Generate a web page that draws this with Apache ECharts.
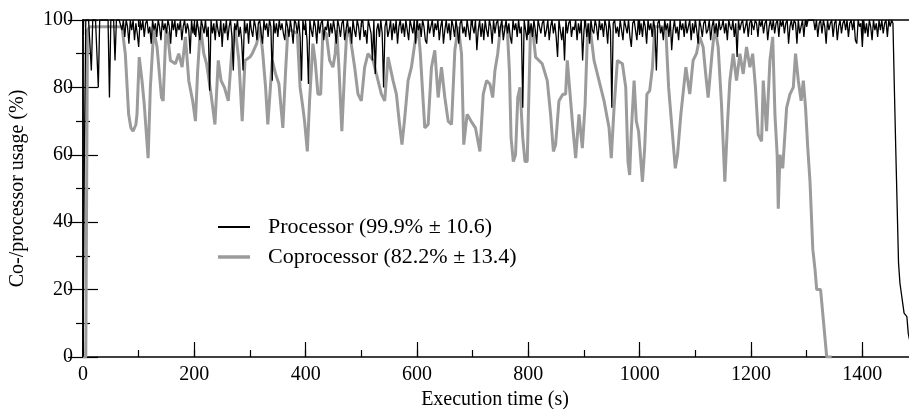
<!DOCTYPE html>
<html><head><meta charset="utf-8">
<script src="https://cdn.jsdelivr.net/npm/echarts@6/dist/echarts.min.js"></script>
<style>html,body{margin:0;padding:0;background:#fff;}#c{width:909px;height:409px;}</style>
</head><body><div id="c"></div>
<script>
const FONT = 'Liberation Serif';
const seriesNames = ['Processor (99.9% \u00b1 10.6)', 'Coprocessor (82.2% \u00b1 13.4)'];
const xName = 'Execution time (s)';
const yName = 'Co-/processor usage (%)';
const xMin = 0, xMax = 1500, xMajor = 200, xMinor = 100;
const yMin = 0, yMax = 100, yMajor = 20;

// Coprocessor usage: breakpoints (time s, usage %)
const copT = [0,5,8,12,40,70,76,82,86,90,95,97,101,106,110,117,121,127,133,141,144,149,152,157,166,172,178,184,190,197,202,206,211,217,222,230,237,243,248,254,261,267,273,280,286,291,300,304,312,318,323,328,332,340,346,352,359,364,368,
373,385,390,395,398,403,407,413,417,422,427,431,437,443,449,453,456,460,465,470,474,480,488,494,500,506,512,521,527,536,542,548,557,563,568,573,578,584,590,596,602,606,611,614,620,626,632,638,644,650,656,662,668,674,680,684,690,697,705,713,719,725,731,736,
740,745,750,762,766,769,773,777,781,785,790,794,798,804,808,813,825,834,840,845,849,855,862,867,870,875,880,885,891,897,902,906,910,918,927,936,945,949,954,960,969,975,979,982,985,990,994,998,1005,1009,1013,1018,1023,1027,1040,1047,1052,1057,1064,1068,1074,1083,1090,1096,1102,
1108,1114,1118,1123,1130,1135,1141,1147,1153,1158,1162,1168,1174,1180,1186,1192,1198,1203,1208,1213,1219,1222,1228,1234,1239,1243,1247,1249,1252,1257,1264,1270,1276,1280,1285,1290,1294,1298,1302,1306,1311,1315,1318,1325,1336,1345];
const copV = [0,0,97,98,98,98,90,72,68,67,69,72,89,82,75,59,80,97,92,77,76,97,96,88,87,90,86,95,82,76,70,85,98,90,87,78,69,88,82,80,76,90,98,88,70,88,89,90,93,98,90,80,69,88,84,81,68,85,97,
97,96,80,74,70,61,76,93,88,78,78,97,96,88,86,90,97,85,67,85,97,95,86,78,76,86,90,88,84,78,76,89,82,78,70,63,71,82,86,93,98,90,76,68,69,86,91,77,86,77,70,69,91,98,90,63,72,70,68,61,78,82,81,77,
85,90,98,98,85,65,58,60,77,80,65,58,58,98,97,89,87,82,72,61,63,76,78,78,88,78,68,59,72,62,75,95,99,88,82,76,68,59,74,88,87,80,58,54,67,82,70,67,52,62,78,79,86,98,98,97,80,70,56,60,72,86,78,88,90,
95,92,85,77,90,98,92,75,52,70,82,90,82,90,84,92,86,90,80,66,64,82,67,88,95,72,60,44,60,56,74,78,80,90,82,76,82,74,62,52,32,26,20,20,0,0];

// Processor usage: one value every procStep seconds from procStart
const procStart = 0;
const procStep = 2.5;
const procV = [
0,60,100,100,100,100,85,100,100,100,
100,80,100,100,100,100,100,100,100,77,
100,100,100,88,100,100,100,100,97,100,
95,100,98,93,100,97,100,94,99,96,
92,100,97,100,95,99,100,96,98,93,
100,97,99,95,100,98,94,100,97,99,
96,100,98,93,100,97,100,95,99,97,
100,94,98,100,96,99,97,90,100,96,
99,95,100,97,94,100,98,96,100,95,
98,79,100,96,99,94,100,97,95,100,
92,99,96,100,94,98,100,95,85,99,
97,100,95,98,94,85,100,96,99,93,
100,97,95,100,98,94,99,100,96,93,
100,97,99,95,100,98,82,100,96,99,
95,100,97,99,96,94,100,98,95,100,
97,93,100,99,96,100,95,82,100,97,
99,94,81,100,97,95,100,98,93,100,
96,99,100,94,98,97,100,95,99,96,
100,97,93,100,98,95,99,100,94,97,
100,96,98,93,100,97,95,100,98,94,
99,100,95,97,93,100,98,96,88,100,
84,97,99,95,100,96,80,98,100,95,
97,100,94,99,96,100,93,98,100,96,
99,95,100,97,94,100,98,96,100,93,
100,97,99,95,100,98,94,93,100,96,
98,100,95,99,97,100,94,98,100,93,
97,100,96,99,94,100,98,95,100,97,
93,99,100,96,98,95,100,97,94,100,
98,96,100,91,97,100,95,99,94,100,
97,95,100,98,93,100,96,99,100,95,
98,100,94,97,100,96,99,95,93,100,
97,99,95,100,96,98,74,100,97,94,
100,96,99,95,100,97,93,100,98,96,
99,100,95,97,100,94,98,100,96,99,
95,89,100,97,94,98,88,100,96,99,
100,95,98,97,100,94,99,96,100,88,
97,100,95,99,93,100,97,96,100,98,
94,100,97,99,95,100,98,93,100,97,
74,99,100,96,98,95,100,97,94,100,
98,96,100,95,92,99,100,97,94,100,
96,99,95,100,98,93,100,97,99,95,
100,97,85,99,100,96,98,94,100,97,
99,95,100,91,97,100,96,98,94,100,
97,99,95,100,96,98,100,94,99,96,
100,97,93,100,98,95,99,100,96,97,
100,94,98,100,96,99,95,100,97,98,
100,96,99,94,100,98,97,100,95,99,
89,100,97,99,100,96,98,100,95,99,
100,100,97,100,99,95,100,98,100,96,
99,100,94,98,100,97,100,96,99,100,
95,100,98,100,96,99,100,93,98,100,
97,100,99,93,100,96,98,100,95,100,
98,100,100,100,100,100,97,100,95,99,
100,96,100,98,93,100,97,99,100,95,
99,100,94,98,100,96,99,100,97,100,
95,99,100,97,100,94,93,100,98,99,
92,100,96,99,95,100,98,94,100,97,
99,95,100,97,100,96,99,100,95,100,
98,100,99,80,62,45,28,22,19,16,
13,12.5,12,7,5,4,3,3,2,2,
2];

const copData = copT.map((t, i) => [t, copV[i]]);
const procData = procV.map((v, i) => [procStart + i * procStep, v]);

const lbl = {fontFamily: FONT, fontSize: 20, color: '#000'};
const axLine = {show: true, lineStyle: {color: '#000', width: 1.5}};
function xAx(pos, interval, tickLen, extra) {
  return Object.assign({
    type: 'value', gridIndex: 0, position: pos, min: xMin, max: xMax, interval: interval,
    axisLine: axLine, axisTick: {show: true, inside: true, length: tickLen, lineStyle: {color: '#000', width: 1.2}},
    axisLabel: {show: false}, splitLine: {show: false}
  }, extra || {});
}
function yAx(pos, extra) {
  return Object.assign({
    type: 'value', position: pos, min: yMin, max: yMax, interval: yMajor,
    axisLine: axLine,
    axisTick: {show: true, inside: true, length: 15, lineStyle: {color: '#000', width: 1.2}},
    minorTick: {show: true, splitNumber: 2, length: 7, lineStyle: {color: '#000', width: 1.2}},
    axisLabel: {show: false}, splitLine: {show: false}, minorSplitLine: {show: false}
  }, extra || {});
}

const chart = echarts.init(document.getElementById('c'), null, {renderer: 'canvas'});
chart.setOption({
  animation: false,
  backgroundColor: '#fff',
  grid: {left: 83, top: 20, width: 835, height: 337, containLabel: false, outerBoundsMode: 'none'},
  legend: {
    orient: 'vertical', left: 218, top: 216, padding: 0, itemWidth: 32, itemHeight: 14, itemGap: 8,
    itemStyle: {borderWidth: 0},
    data: [
      {name: seriesNames[0], icon: 'path://M0,0H32V2H0Z'},
      {name: seriesNames[1], icon: 'path://M0,0H32V3.5H0Z'}
    ],
    textStyle: {fontFamily: FONT, fontSize: 22, color: '#000', padding: [0, 0, 0, 13]}
  },
  xAxis: [
    xAx('bottom', xMinor, 7, {
      axisLabel: {show: true, margin: 8, showMaxLabel: false,
        formatter: v => (v % xMajor === 0 ? String(v) : ''), ...lbl},
      name: xName, nameLocation: 'middle', nameGap: 33,
      nameTextStyle: {...lbl, padding: [0, 11, 0, 0]}
    }),
    xAx('bottom', xMajor, 15, {axisLine: {show: false}}),
    xAx('top', xMinor, 7),
    xAx('top', xMajor, 15, {axisLine: {show: false}})
  ],
  yAxis: [
    yAx('left', {
      axisLabel: {show: true, margin: 10, ...lbl},
      name: yName, nameLocation: 'middle', nameGap: 55, nameRotate: 90, nameTextStyle: lbl
    }),
    yAx('right')
  ],
  series: [
    {name: seriesNames[0], type: 'line', xAxisIndex: 0, yAxisIndex: 0, data: procData,
     symbol: 'none', showSymbol: false, z: 4,
     lineStyle: {color: '#000', width: 1.3}, itemStyle: {color: '#000'}},
    {name: seriesNames[1], type: 'line', xAxisIndex: 0, yAxisIndex: 0, data: copData,
     symbol: 'none', showSymbol: false, z: 3,
     lineStyle: {color: '#9b9b9b', width: 3}, itemStyle: {color: '#9b9b9b'}}
  ]
});
</script>
</body></html>
